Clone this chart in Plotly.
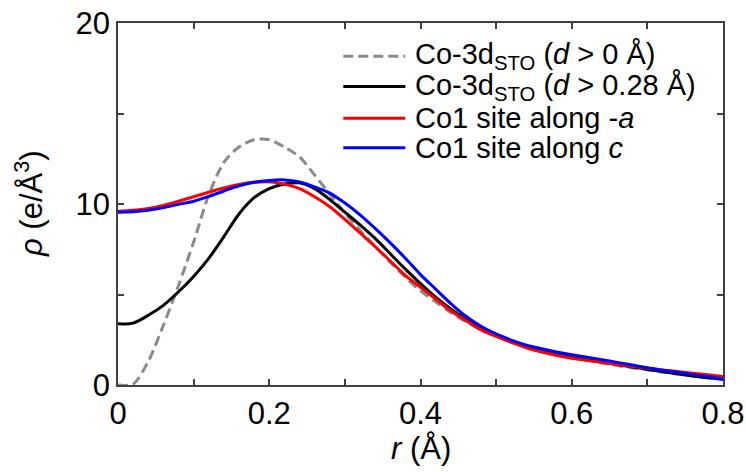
import plotly.graph_objects as go

# radial distance r (Å)
r = [round(0.02 * i, 2) for i in range(41)]

# Co-3d_STO, d > 0 Å
rho_sto_d0 = [0.0, 0.05, 1.3, 3.3, 5.5, 7.9, 10.5, 12.3, 13.15, 13.55, 13.55,
              13.15, 12.6, 11.6, 10.55, 9.5, 8.55, 7.65, 6.78, 5.95, 5.2,
              4.6, 4.0, 3.5, 3.05, 2.7, 2.38, 2.1, 1.86, 1.66, 1.5,
              1.36, 1.22, 1.08, 0.95, 0.83, 0.71, 0.6, 0.5, 0.4, 0.32]

# Co-3d_STO, d > 0.28 Å
rho_sto_d028 = [3.38, 3.42, 3.85, 4.4, 5.15, 6.0, 7.0, 8.2, 9.45, 10.35, 10.85,
                11.1, 11.17, 10.85, 10.25, 9.55, 8.85, 8.1, 7.25, 6.4, 5.6,
                4.85, 4.2, 3.62, 3.12, 2.73, 2.4, 2.1, 1.87, 1.68, 1.53,
                1.4, 1.27, 1.13, 1.0, 0.87, 0.74, 0.62, 0.5, 0.4, 0.32]

# Co1 site along -a
rho_co1_a = [9.6, 9.65, 9.75, 9.92, 10.15, 10.4, 10.65, 10.88, 11.08, 11.2, 11.23,
             11.1, 10.85, 10.4, 9.85, 9.15, 8.4, 7.65, 6.85, 6.05, 5.4,
             4.75, 4.1, 3.55, 3.05, 2.68, 2.35, 2.05, 1.82, 1.63, 1.48,
             1.36, 1.25, 1.13, 1.02, 0.93, 0.83, 0.74, 0.65, 0.56, 0.47]

# Co1 site along c
rho_co1_c = [9.55, 9.57, 9.65, 9.8, 9.98, 10.15, 10.42, 10.72, 11.0, 11.2, 11.3,
             11.33, 11.22, 10.95, 10.6, 10.05, 9.4, 8.65, 7.85, 7.0, 6.1,
             5.3, 4.5, 3.8, 3.25, 2.82, 2.48, 2.2, 2.0, 1.82, 1.67,
             1.54, 1.4, 1.25, 1.1, 0.95, 0.82, 0.7, 0.57, 0.46, 0.33]

series_names = ["Co-3d<sub>STO</sub> (<i>d</i> > 0 Å)",
                "Co-3d<sub>STO</sub> (<i>d</i> > 0.28 Å)",
                "Co1 site along -<i>a</i>",
                "Co1 site along <i>c</i>"]
series_values = [rho_sto_d0, rho_sto_d028, rho_co1_a, rho_co1_c]
series_colors = ["#8a8a8a", "#000000", "#ff0000", "#0000ff"]
series_dash = ["10px,5px", "solid", "solid", "solid"]

FONT = "Liberation Sans, Arial, sans-serif"
AXIS_COLOR = "#404040"

fig = go.Figure()
for name, vals, color, dash in zip(series_names, series_values, series_colors, series_dash):
    fig.add_trace(go.Scatter(
        x=r, y=vals, mode="lines", name=name,
        line=dict(color=color, width=3, dash=dash, shape="spline", smoothing=0.8),
        showlegend=False,
    ))

axis_common = dict(
    showline=True, linecolor=AXIS_COLOR, linewidth=1.5, mirror="allticks",
    ticks="inside", ticklen=6, tickwidth=1.5, tickcolor=AXIS_COLOR,
    showgrid=False, zeroline=False, automargin=False,
    tickfont=dict(family=FONT, size=31, color="#000000"),
)
minor_common = dict(ticks="inside", ticklen=6, tickwidth=1.5, tickcolor=AXIS_COLOR,
                    showgrid=False)

fig.update_layout(
    width=746, height=472,
    margin=dict(l=118, r=23, t=23, b=87),
    paper_bgcolor="white", plot_bgcolor="white",
    font=dict(family=FONT, color="#000000"),
    xaxis=dict(range=[0, 0.8], tick0=0, dtick=0.2, tickformat="~g",
               minor=dict(dtick=0.1, **minor_common), **axis_common),
    yaxis=dict(range=[0, 20], tick0=0, dtick=10,
               minor=dict(dtick=5, **minor_common), **axis_common),
)

# axis titles
fig.add_annotation(text="<i>r</i> (Å)", xref="paper", yref="paper", x=0.5, y=-0.175,
                   xanchor="center", yanchor="middle", showarrow=False,
                   font=dict(family=FONT, size=31))
fig.add_annotation(text="<i>ρ</i> (e/Å<sup>3</sup>)", xref="paper", yref="paper",
                   x=-0.147, y=0.5, xanchor="center", yanchor="middle", textangle=-90,
                   showarrow=False, font=dict(family=FONT, size=31))

# legend: sample line + label per series
legend_rows = [0.908, 0.8245, 0.737, 0.6556]
for name, color, dash, yrow in zip(series_names, series_colors, series_dash, legend_rows):
    fig.add_shape(type="line", xref="paper", yref="paper",
                  x0=0.3724, x1=0.4749, y0=yrow, y1=yrow,
                  line=dict(color=color, width=3, dash=dash))
    fig.add_annotation(text=name, xref="paper", yref="paper", x=0.487, y=yrow,
                       xanchor="left", yanchor="middle", showarrow=False,
                       font=dict(family=FONT, size=29))

fig.write_html("out.html")
